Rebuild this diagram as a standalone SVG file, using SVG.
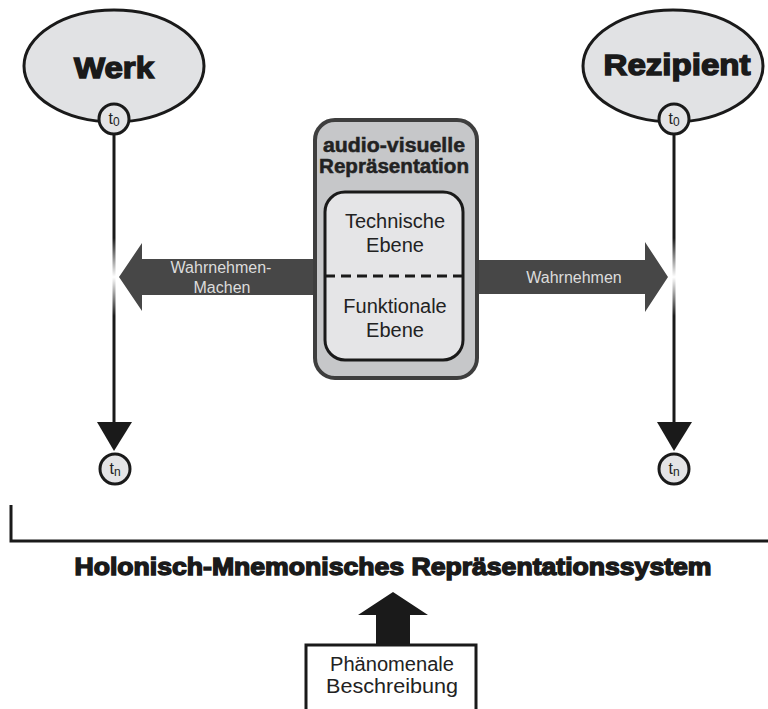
<svg xmlns="http://www.w3.org/2000/svg" width="768" height="709" viewBox="0 0 768 709">
<style>
.ell{fill:#e1e2e4;stroke:#1a1a1a;stroke-width:3}
.tc{fill:#e4e4e6;stroke:#1a1a1a;stroke-width:3}
.tl{font-family:"Liberation Sans",Arial,sans-serif;font-size:16px;fill:#222;text-anchor:middle}
.sub{font-size:12px}
.big{font-family:"Liberation Sans",Arial,sans-serif;font-weight:bold;fill:#1a1a1a;stroke:#1a1a1a;stroke-width:1.4;text-anchor:middle}
.reg{font-family:"Liberation Sans",Arial,sans-serif;font-size:20px;fill:#222;text-anchor:middle}
.bold{font-family:"Liberation Sans",Arial,sans-serif;font-weight:bold;font-size:20px;fill:#222;stroke:#222;stroke-width:0.5;text-anchor:middle}
.al{font-family:"Liberation Sans",Arial,sans-serif;font-size:16px;fill:#dcdcdc;text-anchor:middle}
.ln{stroke:#1a1a1a;stroke-width:3;fill:none}
.arr{fill:#474747}
</style>
<defs>
<linearGradient id="fade" x1="0" y1="0" x2="0" y2="1">
<stop offset="0" stop-color="#fff" stop-opacity="0"/>
<stop offset="0.5" stop-color="#fff" stop-opacity="1"/>
<stop offset="1" stop-color="#fff" stop-opacity="0"/>
</linearGradient>
</defs>
<g id="connectors">
<line class="ln" x1="114" y1="134" x2="114" y2="424"/>
<polygon points="97,422 132,422 114,451" fill="#1a1a1a"/>
<line class="ln" x1="674" y1="134" x2="674" y2="424"/>
<polygon points="657,422 692,422 674,451" fill="#1a1a1a"/>
<rect x="110" y="238" width="8" height="78" fill="url(#fade)"/>
<rect x="670" y="238" width="8" height="78" fill="url(#fade)"/>
<polygon class="arr" points="317,259 142,259 142,243 119,277 142,311 142,295 317,295"/>
<polygon class="arr" points="475,260 645,260 645,242 668,277 645,312 645,294 475,294"/>
<polygon points="376,645 376,615 358,615 393,592 428,615 410,615 410,645" fill="#1a1a1a"/>
<path class="ln" d="M11,505 V541 H768"/>
</g>
<g id="werk">
<ellipse class="ell" cx="114" cy="66" rx="90" ry="56"/>
<text class="big" x="114" y="78" font-size="29" textLength="80" lengthAdjust="spacingAndGlyphs">Werk</text>
</g>
<g id="werk-t0">
<circle class="tc" cx="114" cy="119" r="15"/>
<text class="tl" x="114" y="124">t<tspan class="sub" dy="2">0</tspan></text>
</g>
<g id="werk-tn">
<circle class="tc" cx="115" cy="469" r="15"/>
<text class="tl" x="115" y="474">t<tspan class="sub" dy="2">n</tspan></text>
</g>
<g id="rezipient">
<ellipse class="ell" cx="673" cy="66" rx="90" ry="56"/>
<text class="big" x="677" y="75" font-size="29" textLength="147" lengthAdjust="spacingAndGlyphs">Rezipient</text>
</g>
<g id="rezipient-t0">
<circle class="tc" cx="674" cy="119" r="15"/>
<text class="tl" x="674" y="124">t<tspan class="sub" dy="2">0</tspan></text>
</g>
<g id="rezipient-tn">
<circle class="tc" cx="674" cy="469" r="15"/>
<text class="tl" x="674" y="474">t<tspan class="sub" dy="2">n</tspan></text>
</g>
<g id="av-repr">
<rect x="315" y="120" width="162" height="258" rx="20" fill="#c6c7c9" stroke="#3e3e3e" stroke-width="4"/>
<text class="bold" x="394" y="152" textLength="142" lengthAdjust="spacingAndGlyphs">audio-visuelle</text>
<text class="bold" x="394" y="173" textLength="150" lengthAdjust="spacingAndGlyphs">Repräsentation</text>
<rect x="325" y="192" width="138" height="168" rx="20" fill="#e5e5e7" stroke="#1a1a1a" stroke-width="3"/>
<line x1="325" y1="276" x2="463" y2="276" stroke="#1a1a1a" stroke-width="3" stroke-dasharray="10,6"/>
<text class="reg" x="395" y="228">Technische</text>
<text class="reg" x="395" y="252">Ebene</text>
<text class="reg" x="395" y="313">Funktionale</text>
<text class="reg" x="395" y="337">Ebene</text>
</g>
<g id="labels">
<text class="al" x="221" y="273">Wahrnehmen-</text>
<text class="al" x="222" y="293">Machen</text>
<text class="al" x="574" y="283">Wahrnehmen</text>
</g>
<g id="system">
<text class="big" x="393" y="575" font-size="24" stroke-width="1" textLength="637" lengthAdjust="spacingAndGlyphs">Holonisch-Mnemonisches Repräsentationssystem</text>
</g>
<g id="phaenomenal">
<rect x="306" y="645" width="170" height="70" fill="#fff" stroke="#1a1a1a" stroke-width="3"/>
<text class="reg" x="392" y="671" font-size="18" textLength="124" lengthAdjust="spacingAndGlyphs">Phänomenale</text>
<text class="reg" x="392" y="693" font-size="18" textLength="132" lengthAdjust="spacingAndGlyphs">Beschreibung</text>
</g>
</svg>
